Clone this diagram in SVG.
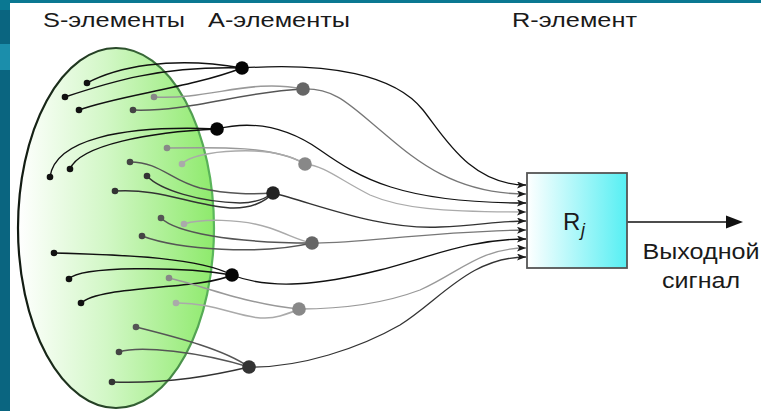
<svg xmlns="http://www.w3.org/2000/svg" width="761" height="411" viewBox="0 0 761 411">
<defs>
<linearGradient id="gS" x1="0" y1="0" x2="1" y2="0">
<stop offset="0" stop-color="#ffffff"/>
<stop offset="0.45" stop-color="#d2f7c6"/>
<stop offset="1" stop-color="#8eea6c"/>
</linearGradient>
<linearGradient id="gSs" x1="0" y1="0" x2="1" y2="0">
<stop offset="0" stop-color="#111a11"/>
<stop offset="0.5" stop-color="#2a4a2a"/>
<stop offset="1" stop-color="#5cb85c"/>
</linearGradient>
<linearGradient id="gR" x1="0" y1="0" x2="1" y2="0">
<stop offset="0" stop-color="#ffffff"/>
<stop offset="1" stop-color="#56eff3"/>
</linearGradient>
<marker id="ah" markerUnits="userSpaceOnUse" markerWidth="10" markerHeight="8" refX="9" refY="3.5" orient="auto">
<path d="M0,0 L9,3.5 L0,7 L2.2,3.5 z" fill="#1a1a1a"/>
</marker>
</defs>
<style>
.t{font-family:"Liberation Sans",Arial,sans-serif;fill:#1a1a1a}
.c{fill:none;stroke-width:1.5;stroke-linecap:round}
.r{fill:none;stroke-width:1.3;marker-end:url(#ah)}
.k{stroke:#111}.d{stroke:#333}.m{stroke:#555}.g{stroke:#777}.l{stroke:#999}.x{stroke:#aaa}
</style>
<rect x="0" y="0" width="761" height="411" fill="#0a6580"/>
<rect x="0" y="0" width="761" height="10" fill="#0a7892"/>
<rect x="0" y="44" width="10" height="26" fill="#1b8eab"/>
<rect x="10" y="3" width="751" height="408" fill="#ffffff"/>

<g id="labels">
<text class="t" x="114" y="27" font-size="20" text-anchor="middle" textLength="142" lengthAdjust="spacingAndGlyphs">S-элементы</text>
<text class="t" x="279" y="27" font-size="20" text-anchor="middle" textLength="142" lengthAdjust="spacingAndGlyphs">A-элементы</text>
<text class="t" x="574.5" y="27" font-size="20" text-anchor="middle" textLength="125" lengthAdjust="spacingAndGlyphs">R-элемент</text>
<text class="t" x="701" y="259" font-size="22" text-anchor="middle" textLength="117" lengthAdjust="spacingAndGlyphs">Выходной</text>
<text class="t" x="701" y="288" font-size="22" text-anchor="middle" textLength="78" lengthAdjust="spacingAndGlyphs">сигнал</text>
</g>

<g id="S">
<ellipse cx="116" cy="228" rx="98" ry="180" fill="url(#gS)" stroke="url(#gSs)" stroke-width="2.2"/>
</g>

<g id="connectors">
<path class="c k" d="M87,83 C115,68 170,55 242,68"/>
<path class="c k" d="M65,97 C110,82 160,66 242,68"/>
<path class="c k" d="M79,110 C120,95 190,88 242,68"/>
<path class="c l" d="M154,97 C210,100 250,78 303,89"/>
<path class="c m" d="M133,110 C190,112 240,92 303,89"/>
<path class="c k" d="M50,177 C55,140 120,125 217,129"/>
<path class="c k" d="M70,169 C80,145 150,132 217,129"/>
<path class="c l" d="M167,148 C220,147 275,146 305,164"/>
<path class="c x" d="M182,164 C190,155 220,150 255,151 C280,152 295,158 305,164"/>
<path class="c m" d="M130,162 C160,162 170,180 200,188 C230,195 255,194 273,193"/>
<path class="c d" d="M147,176 C160,190 200,202 240,203 C255,203 265,199 273,193"/>
<path class="c d" d="M115,191 C160,188 190,205 230,208 C250,209 265,202 273,193"/>
<path class="c m" d="M161,218 C175,232 230,243 312,243"/>
<path class="c x" d="M184,224 C200,219 240,218 270,228 C290,235 300,241 312,243"/>
<path class="c m" d="M142,236 C180,250 260,255 312,243"/>
<path class="c k" d="M54,253 C130,255 200,258 232,275"/>
<path class="c k" d="M69,279 C80,266 180,266 232,275"/>
<path class="c k" d="M81,303 C100,285 200,290 232,275"/>
<path class="c l" d="M169,278 C200,285 250,305 299,309"/>
<path class="c x" d="M176,303 C220,302 250,325 280,316 C290,313 295,311 299,309"/>
<path class="c m" d="M136,327 C180,338 225,350 249,367"/>
<path class="c m" d="M119,352 C140,345 200,352 249,367"/>
<path class="c d" d="M112,382 C170,384 215,375 249,367"/>

<path class="r k" d="M242,68 C330,62 395,75 423,110 C443,135 470,185 526,185"/>
<path class="r g" d="M303,89 C335,88 350,105 380,130 C410,155 450,194 526,194"/>
<path class="r k" d="M217,129 C245,122 280,122 320,150 C360,178 400,203 526,203"/>
<path class="r x" d="M305,164 C325,166 340,180 370,195 C400,208 440,212 526,212"/>
<path class="r d" d="M273,193 C320,205 380,230 440,227 C480,225 500,221 526,221"/>
<path class="r g" d="M312,243 C360,244 420,232 526,230"/>
<path class="r k" d="M232,275 C270,290 320,285 380,270 C430,257 470,239 526,239"/>
<path class="r l" d="M299,309 C340,309 380,305 420,290 C460,272 480,248 526,248"/>
<path class="r d" d="M249,367 C300,368 360,348 400,325 C440,300 470,257 526,257"/>

<path d="M627,222 H728" stroke="#111" stroke-width="1.6" fill="none"/>
<polygon points="726,215.5 743,222 726,228.5" fill="#111"/>
</g>

<g id="S-dots">
<circle cx="87" cy="83" r="3.3" fill="#111"/>
<circle cx="65" cy="97" r="3.3" fill="#111"/>
<circle cx="79" cy="110" r="3.3" fill="#111"/>
<circle cx="154" cy="97" r="3.3" fill="#888"/>
<circle cx="133" cy="110" r="3.3" fill="#444"/>
<circle cx="50" cy="177" r="3.3" fill="#111"/>
<circle cx="70" cy="169" r="3.3" fill="#111"/>
<circle cx="167" cy="148" r="3.3" fill="#888"/>
<circle cx="182" cy="164" r="3.3" fill="#aaa"/>
<circle cx="130" cy="162" r="3.3" fill="#444"/>
<circle cx="147" cy="176" r="3.3" fill="#333"/>
<circle cx="115" cy="191" r="3.3" fill="#333"/>
<circle cx="161" cy="218" r="3.3" fill="#555"/>
<circle cx="184" cy="224" r="3.3" fill="#aaa"/>
<circle cx="142" cy="236" r="3.3" fill="#444"/>
<circle cx="54" cy="253" r="3.3" fill="#111"/>
<circle cx="69" cy="279" r="3.3" fill="#111"/>
<circle cx="81" cy="303" r="3.3" fill="#111"/>
<circle cx="169" cy="278" r="3.3" fill="#888"/>
<circle cx="176" cy="303" r="3.3" fill="#aaa"/>
<circle cx="136" cy="327" r="3.3" fill="#555"/>
<circle cx="119" cy="352" r="3.3" fill="#444"/>
<circle cx="112" cy="382" r="3.3" fill="#333"/>
</g>

<g id="A1"><circle cx="242" cy="68" r="6.8" fill="#050505"/></g>
<g id="A2"><circle cx="303" cy="89" r="6.8" fill="#666"/></g>
<g id="A3"><circle cx="217" cy="129" r="6.8" fill="#050505"/></g>
<g id="A4"><circle cx="305" cy="164" r="6.8" fill="#888"/></g>
<g id="A5"><circle cx="273" cy="193" r="6.8" fill="#222"/></g>
<g id="A6"><circle cx="312" cy="243" r="6.8" fill="#666"/></g>
<g id="A7"><circle cx="232" cy="275" r="6.8" fill="#050505"/></g>
<g id="A8"><circle cx="299" cy="309" r="6.8" fill="#888"/></g>
<g id="A9"><circle cx="249" cy="367" r="6.8" fill="#333"/></g>

<g id="R">
<rect x="527" y="173" width="100" height="95" fill="url(#gR)" stroke="#555" stroke-width="1.8"/>
<text class="t" x="563" y="230" font-size="24">R</text>
<text class="t" x="581" y="236" font-size="18" font-style="italic">j</text>
</g>
</svg>
